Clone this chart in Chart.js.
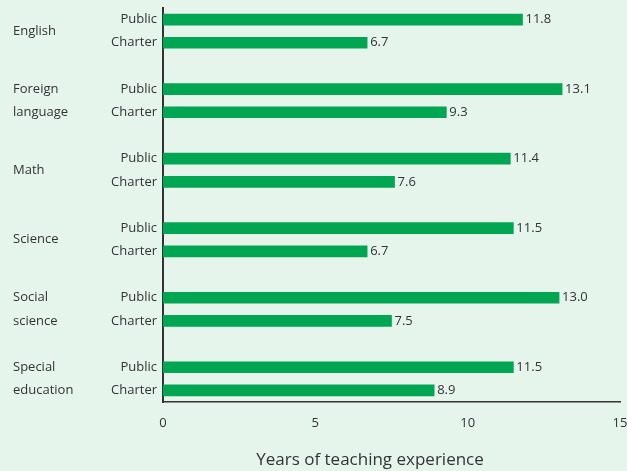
<!DOCTYPE html>
<html>
<head>
<meta charset="utf-8">
<script src="https://cdn.jsdelivr.net/npm/chart.js@4"></script>
<style>
  body { margin: 0; background: #e6f5ec; }
  #wrap { width: 627px; height: 471px; }
</style>
</head>
<body>
<div id="wrap"><canvas id="myChart" width="627" height="471"></canvas></div>
<script>
const groupNames = [['English'], ['Foreign', 'language'], ['Math'], ['Science'], ['Social', 'science'], ['Special', 'education']]
const publicYears = [11.8, 13.1, 11.4, 11.5, 13.0, 11.5]
const charterYears = [6.7, 9.3, 7.6, 6.7, 7.5, 8.9]
const xTicks = [0, 5, 10, 15]
const xTitle = 'Years of teaching experience'

// build rows: Public, Charter, spacer ... (no spacer after last group)
let labels = []
let values = []
for (let i = 0; i < groupNames.length; i++) {
    labels.push('Public')
    values.push(publicYears[i])
    labels.push('Charter')
    values.push(charterYears[i])
    if (i < groupNames.length - 1) {
        labels.push('')
        values.push(null)
    }
}

const textColor = '#333333'
const font = "'Open Sans', 'DejaVu Sans', sans-serif"

const labelPlugin = {
    id: 'labelPlugin',
    afterDatasetsDraw(chart) {
        const ctx = chart.ctx
        const x = chart.scales.x
        const y = chart.scales.y
        ctx.save()
        ctx.fillStyle = textColor
        ctx.font = '13px ' + font
        ctx.textBaseline = 'middle'
        ctx.textAlign = 'left'
        // value labels
        values.forEach((v, i) => {
            if (v === null) return
            ctx.fillText(v.toFixed(1), x.getPixelForValue(v) + 3, y.getPixelForValue(i))
        })
        // group labels
        groupNames.forEach((g, i) => {
            const yPub = y.getPixelForValue(i * 3)
            const yCha = y.getPixelForValue(i * 3 + 1)
            if (g.length === 1) {
                ctx.fillText(g[0], 13, (yPub + yCha) / 2)
            } else {
                ctx.fillText(g[0], 13, yPub)
                ctx.fillText(g[1], 13, yCha)
            }
        })
        // axis title, sits a bit left of the plot centre like the original
        ctx.font = '17px ' + font
        ctx.textAlign = 'center'
        ctx.fillText(xTitle, 370, 460)
        ctx.restore()
    }
}

new Chart(document.getElementById('myChart'), {
    type: 'bar',
    data: {
        labels: labels,
        datasets: [{
            data: values,
            backgroundColor: '#00a651',
            barThickness: 11
        }]
    },
    options: {
        indexAxis: 'y',
        responsive: false,
        animation: false,
        layout: { padding: { top: 8, right: 7, left: 0, bottom: 0 } },
        plugins: {
            legend: { display: false },
            tooltip: { enabled: false }
        },
        scales: {
            x: {
                min: 0,
                max: 15,
                afterBuildTicks: (scale) => { scale.ticks = xTicks.map(v => ({ value: v })) },
                grid: { display: false, drawTicks: false },
                border: { display: true, color: '#333333', width: 1.5 },
                ticks: { color: textColor, font: { family: font, size: 13 }, padding: 13 },
                afterFit: (scale) => {
                    scale.height = 69
                    scale.paddingLeft = 0
                    scale.paddingRight = 0
                }
            },
            y: {
                grid: { display: false, drawTicks: false },
                border: { display: true, color: '#333333', width: 2 },
                ticks: { color: textColor, font: { family: font, size: 13 }, padding: 6, autoSkip: false },
                afterFit: (scale) => {
                    scale.width = 163
                    scale.paddingTop = 0
                    scale.paddingBottom = 0
                }
            }
        }
    },
    plugins: [labelPlugin]
})
</script>
</body>
</html>
